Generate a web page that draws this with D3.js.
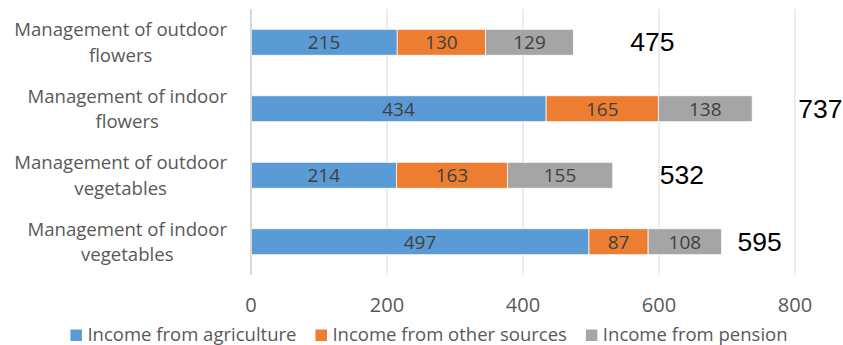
<!DOCTYPE html>
<html>
<head>
<meta charset="utf-8">
<script src="https://cdn.jsdelivr.net/npm/d3@7"></script>
<style>
  html, body { margin: 0; padding: 0; background: #fff; }
  svg { display: block; }
</style>
</head>
<body>
<svg id="chart" width="843" height="345"></svg>
<script>
// Farm household income by type of management, stacked by income source
const categories = [
  ["Management of outdoor", "flowers"],
  ["Management of indoor", "flowers"],
  ["Management of outdoor", "vegetables"],
  ["Management of indoor", "vegetables"]
];
const seriesNames = ["Income from agriculture", "Income from other sources", "Income from pension"];
const agriculture = [215, 434, 214, 497];
const otherSources = [130, 165, 163, 87];
const pension = [129, 138, 155, 108];
const totals = [475, 737, 532, 595];
const xTicks = [0, 200, 400, 600, 800];

const colors = ["#5B9BD5", "#ED7D31", "#A5A5A5"];
const labelFont = "'Open Sans', 'Noto Sans', sans-serif";

// gap in px between each bar end and its total label
const totalLabelGap = [57, 46, 47, 16];

const svg = d3.select("#chart");
const plot = { left: 251, right: 795, top: 9, bottom: 275 };

const x = d3.scaleLinear().domain([0, 800]).range([plot.left, plot.right]);
const y = d3.scaleBand().domain(d3.range(categories.length))
  .range([plot.top, plot.bottom]).paddingInner(0.61).paddingOuter(0.305);

// vertical gridlines
svg.append("g").selectAll("line").data(xTicks.filter(d => d > 0)).join("line")
  .attr("x1", d => x(d)).attr("x2", d => x(d))
  .attr("y1", plot.top).attr("y2", plot.bottom)
  .attr("stroke", "#D9D9D9").attr("stroke-width", 1);

// stacked bars
const rows = categories.map((c, i) => ({ i, a: agriculture[i], o: otherSources[i], p: pension[i] }));
const stack = d3.stack().keys(["a", "o", "p"]);
const layers = stack(rows);

const gLayers = svg.append("g").selectAll("g").data(layers).join("g")
  .attr("fill", (d, k) => colors[k]);

gLayers.selectAll("rect").data(d => d).join("rect")
  .attr("x", d => x(d[0]))
  .attr("y", d => y(d.data.i))
  .attr("width", d => x(d[1]) - x(d[0]))
  .attr("height", y.bandwidth())
  .attr("stroke", "#fff").attr("stroke-width", 0.75);

// segment value labels
gLayers.selectAll("text").data(d => d).join("text")
  .attr("x", d => (x(d[0]) + x(d[1])) / 2)
  .attr("y", d => y(d.data.i) + y.bandwidth() / 2 + 7)
  .attr("text-anchor", "middle")
  .attr("font-family", labelFont).attr("font-size", 19)
  .attr("fill", "#404040")
  .text(d => d[1] - d[0]);

// category axis line
svg.append("line")
  .attr("x1", plot.left).attr("x2", plot.left)
  .attr("y1", plot.top).attr("y2", plot.bottom)
  .attr("stroke", "#D9D9D9").attr("stroke-width", 2);

// total labels beside each bar
svg.append("g").selectAll("text").data(totals).join("text")
  .attr("x", (d, i) => x(layers[2][i][1]) + totalLabelGap[i])
  .attr("y", (d, i) => y(i) + y.bandwidth() / 2 + 9)
  .attr("font-family", "'Liberation Sans', Arial, sans-serif")
  .attr("font-size", 26.5)
  .attr("fill", "#000")
  .text(d => d);

// category labels: two centred lines, block right-aligned to the axis
const catG = svg.append("g").selectAll("g").data(categories).join("g");
catG.each(function (lines, i) {
  const g = d3.select(this);
  const cy = y(i) + y.bandwidth() / 2;
  const texts = g.selectAll("text").data(lines).join("text")
    .attr("y", (d, k) => cy - 6 + k * 25.7)
    .attr("text-anchor", "middle")
    .attr("font-family", labelFont).attr("font-size", 18.6)
    .attr("fill", "#595959")
    .text(d => d);
  const w = d3.max(texts.nodes(), n => n.getComputedTextLength());
  texts.attr("x", 227 - w / 2);
});

// value axis tick labels
svg.append("g").selectAll("text").data(xTicks).join("text")
  .attr("x", d => x(d))
  .attr("y", 312)
  .attr("text-anchor", "middle")
  .attr("font-family", labelFont).attr("font-size", 20)
  .attr("fill", "#595959")
  .text(d => d);

// legend
const legend = svg.append("g");
let cursor = 0;
seriesNames.forEach((name, k) => {
  const item = legend.append("g").attr("transform", `translate(${cursor},0)`);
  item.append("rect").attr("x", 0).attr("y", 329.5).attr("width", 11.5).attr("height", 11.5)
    .attr("fill", colors[k]);
  const t = item.append("text").attr("x", 17).attr("y", 340.5)
    .attr("font-family", labelFont).attr("font-size", 18.5)
    .attr("fill", "#595959").text(name);
  cursor += 17 + t.node().getComputedTextLength() + 19;
});
const legendWidth = cursor - 19;
legend.attr("transform", `translate(${429 - legendWidth / 2},0)`);
</script>
</body>
</html>
